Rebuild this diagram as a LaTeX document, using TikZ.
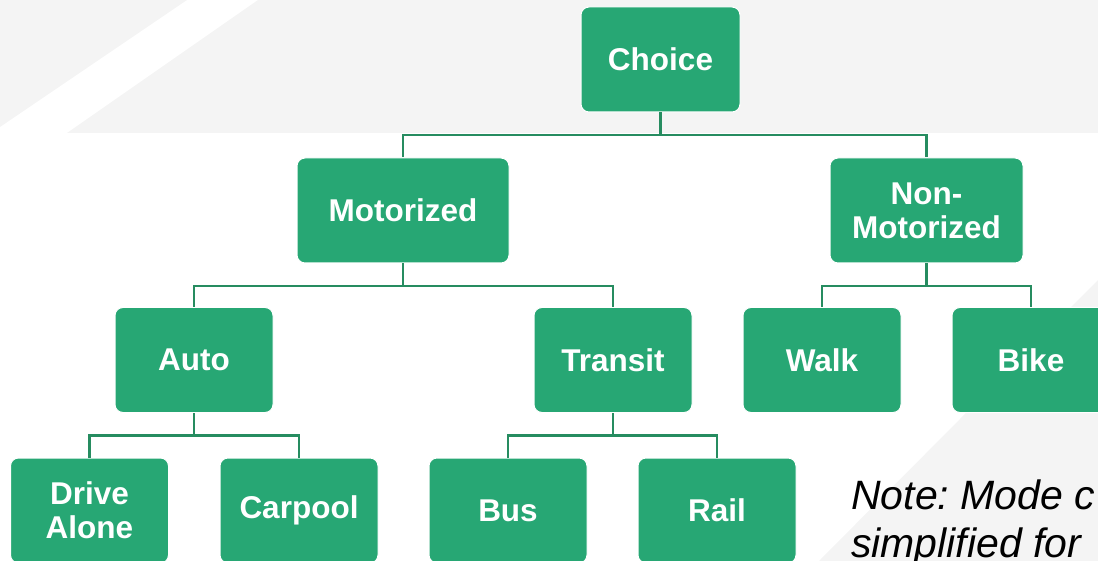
\documentclass[tikz,border=0pt]{standalone}
\usepackage{fontspec}
\setmainfont{Liberation Sans}
\frenchspacing
\definecolor{boxgreen}{RGB}{39,167,116}
\definecolor{linegreen}{RGB}{38,140,96}
\definecolor{bggray}{RGB}{244,244,244}
\begin{document}
\begin{tikzpicture}[x=1pt,y=-1pt,
  mbox/.style={fill=boxgreen,draw=white,line width=1pt,rounded corners=8pt,
    minimum width=158pt,minimum height=105pt,inner sep=0pt,align=center,
    text=white,font=\fontsize{31.5}{34}\selectfont\bfseries},
  conn/.style={draw=linegreen,line width=2.2pt},
  notetext/.style={anchor=base west,inner sep=0pt,text=black,
    font=\fontsize{41}{48}\selectfont\itshape}]
\useasboundingbox (0,0) rectangle (1098,561);
\clip (0,0) rectangle (1098,561);
% background shapes
\fill[bggray] (0,0) -- (187,0) -- (0,127) -- cycle;
\fill[bggray] (258,0) -- (1098,0) -- (1098,133) -- (67,133) -- cycle;
\fill[bggray] (1098,280) -- (1098,561) -- (819,561) -- cycle;
% nodes
\node[mbox,minimum width=159pt] (choice) at (660.5,59.5) {Choice};
\node[mbox,minimum width=212pt] (motor) at (403,210.5) {Motorized};
\node[mbox,minimum width=193pt] (nonmotor) at (926.5,210.5) {Non-\\Motorized};
\node[mbox] (auto) at (194,360) {Auto};
\node[mbox] (transit) at (613,360) {Transit};
\node[mbox] (walk) at (822,360) {Walk};
\node[mbox] (bike) at (1031,360) {Bike};
\node[mbox] (drive) at (89.5,510.5) {Drive\\Alone};
\node[mbox] (carpool) at (299,510.5) {Carpool};
\node[mbox] (bus) at (508,510.5) {Bus};
\node[mbox] (rail) at (717,510.5) {Rail};
% connectors
\foreach \p/\c in {choice/motor,choice/nonmotor,motor/auto,motor/transit,
    nonmotor/walk,nonmotor/bike,auto/drive,auto/carpool,transit/bus,transit/rail}{
  \draw[conn] (\p.south) -- ++(0,22.5) -| (\c.north);
}
% note
\node[notetext] (note1) at (851,509) {Note: Mode c};
\node[notetext] (note2) at (851,557) {simplified for};
\end{tikzpicture}
\end{document}
